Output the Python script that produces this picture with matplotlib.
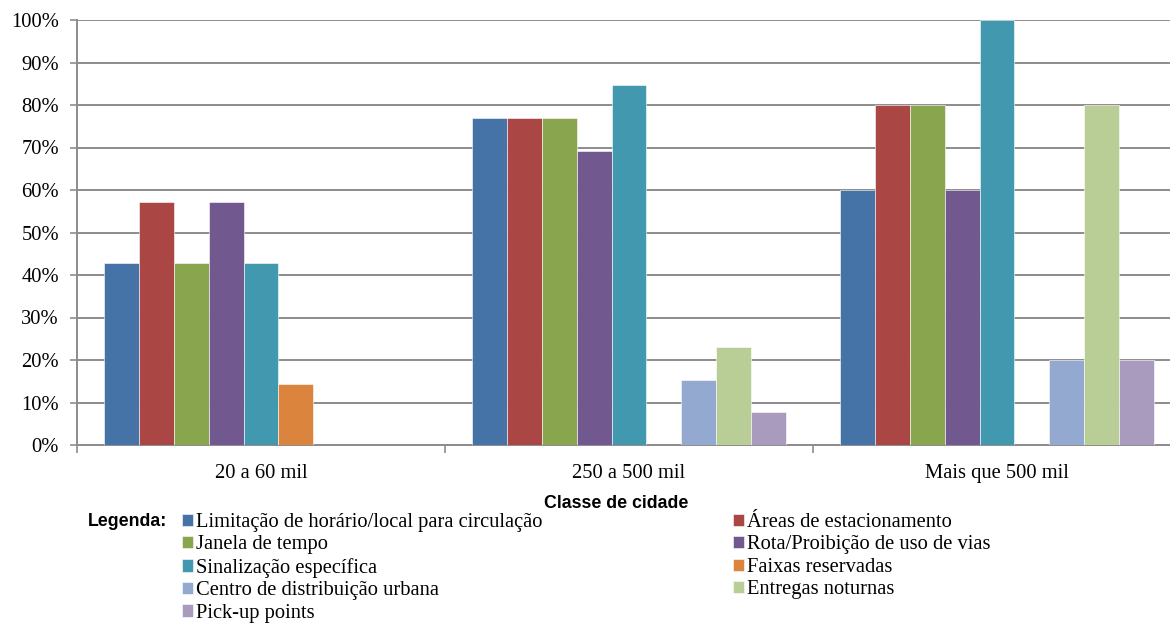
import numpy as np
import matplotlib
matplotlib.use("Agg")
import matplotlib.pyplot as plt
from matplotlib.ticker import FixedLocator, PercentFormatter

# city size classes
categories = ["20 a 60 mil", "250 a 500 mil", "Mais que 500 mil"]

series_names = [
    "Limitação de horário/local para circulação",
    "Áreas de estacionamento",
    "Janela de tempo",
    "Rota/Proibição de uso de vias",
    "Sinalização específica",
    "Faixas reservadas",
    "Centro de distribuição urbana",
    "Entregas noturnas",
    "Pick-up points",
]

# share of cities per class (fractions)
limitacao = [0.429, 0.769, 0.60]
areas_estac = [0.571, 0.769, 0.80]
janela = [0.429, 0.769, 0.80]
rota = [0.571, 0.692, 0.60]
sinalizacao = [0.429, 0.846, 1.00]
faixas = [0.143, 0.0, 0.0]
centro_dist = [0.0, 0.154, 0.20]
noturnas = [0.0, 0.231, 0.80]
pickup = [0.0, 0.077, 0.20]

values = [limitacao, areas_estac, janela, rota, sinalizacao,
          faixas, centro_dist, noturnas, pickup]

colors = ["#4572A7", "#AA4643", "#89A54E", "#71588F", "#4198AF",
          "#DB843D", "#93A9CF", "#B9CD96", "#A99BBD"]

serif = "Liberation Serif"
sans = "Liberation Sans"
fs = 14.8

fig = plt.figure(figsize=(11.7, 6.25), dpi=100)
ax = fig.add_axes([77 / 1170, 180 / 625, 1104 / 1170, 425 / 625])

x = np.arange(len(categories))
bw = 0.0951
n = len(values)
handles = []
for i, (vals, c) in enumerate(zip(values, colors)):
    offs = (i - (n - 1) / 2) * bw
    b = ax.bar(x + offs, vals, width=bw, color=c, edgecolor="white",
               linewidth=0.4, label=series_names[i], zorder=3)
    handles.append(b)

ax.set_xlim(-0.5, 2.5)
ax.set_ylim(0, 1.0)
ax.set_yticks(np.arange(0, 1.01, 0.1))
ax.yaxis.set_major_formatter(PercentFormatter(1.0, decimals=0))
ax.grid(axis="y", color="#8c8c8c", linewidth=1.4, zorder=0)
ax.set_axisbelow(True)

ax.set_xticks(x)
ax.set_xticklabels(categories)
ax.xaxis.set_minor_locator(FixedLocator([-0.5, 0.5, 1.5, 2.5]))
ax.tick_params(axis="x", which="major", length=0, pad=14)
ax.tick_params(axis="x", which="minor", length=6, color="#8c8c8c", width=1.2)
ax.tick_params(axis="y", length=5, color="#8c8c8c", width=1.2, pad=8)

for lab in ax.get_xticklabels() + ax.get_yticklabels():
    lab.set_fontfamily(serif)
    lab.set_fontsize(fs)

for s in ["top", "right"]:
    ax.spines[s].set_visible(False)
for s in ["left", "bottom"]:
    ax.spines[s].set_color("#8c8c8c")
    ax.spines[s].set_linewidth(1.4)

fig.text(616 / 1170, 1 - 503 / 625, "Classe de cidade", ha="center",
         va="center", family=sans, fontweight="bold", fontsize=12.8)
fig.text(88 / 1170, 1 - 522 / 625, "Legenda:", ha="left", va="center",
         family=sans, fontweight="bold", fontsize=12.8)

# Excel fills the legend row by row, so split into two columns
col1 = [0, 2, 4, 6, 8]
col2 = [1, 3, 5, 7]
for idx, xpos in [(col1, 182), (col2, 733)]:
    leg = fig.legend([handles[i] for i in idx], [series_names[i] for i in idx],
                     loc="upper left", bbox_to_anchor=(xpos / 1170, 1 - 513 / 625),
                     frameon=False, prop={"family": serif, "size": fs},
                     handlelength=0.54, handleheight=0.54, handletextpad=0.15,
                     labelspacing=0.17, borderpad=0, borderaxespad=0)

fig.savefig("out.png", dpi=100)
